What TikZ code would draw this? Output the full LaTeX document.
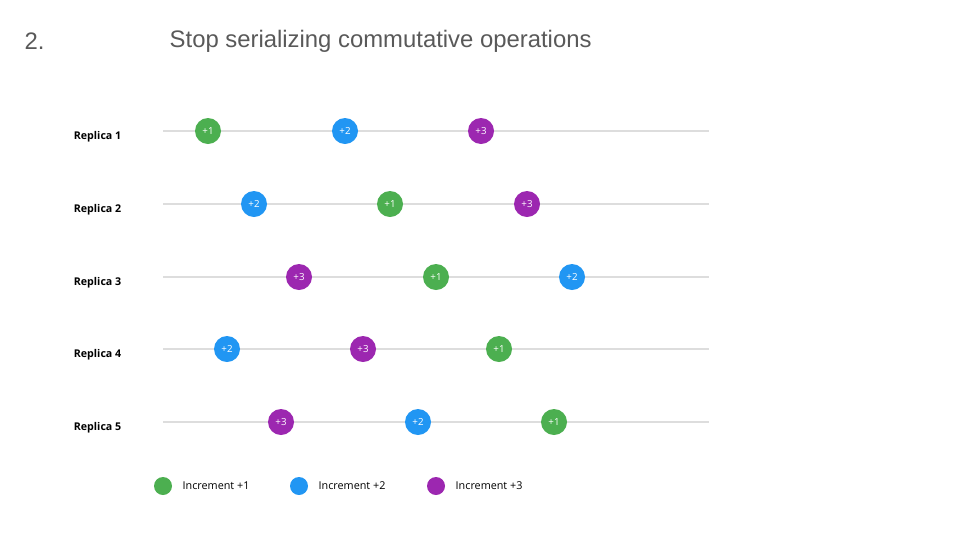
\documentclass[tikz,border=0pt]{standalone}
\usepackage{fontspec}
\setmainfont{Open Sans}
\newfontfamily\titlefont{Liberation Sans}
\definecolor{incone}{HTML}{4CAF50}
\definecolor{inctwo}{HTML}{2196F3}
\definecolor{incthree}{HTML}{9C27B0}
\definecolor{rail}{HTML}{DDDDDD}
\definecolor{titlegray}{HTML}{595959}
\tikzset{
  op/.style={circle, minimum size=19.5pt, inner sep=0pt, text=white, font=\fontsize{7.3}{8}\selectfont},
  opone/.style={op, fill=incone},
  optwo/.style={op, fill=inctwo},
  opthree/.style={op, fill=incthree},
  key/.style={circle, minimum size=13.5pt, inner sep=0pt},
  replica/.style={anchor=east, font=\fontsize{8}{10}\selectfont\bfseries},
  keytext/.style={anchor=west, font=\fontsize{8.1}{10}\selectfont},
  heading/.style={anchor=west, text=titlegray, font=\titlefont\fontsize{17.9}{21}\selectfont},
}
\begin{document}
\begin{tikzpicture}[x=0.75pt, y=-0.75pt]
\useasboundingbox (0, 0) rectangle (960, 540);
% titolo
\node[heading] (num) at (20, 41) {2.};
\node[heading] (title) at (165, 41) {Stop serializing commutative operations};
% binari
\foreach \r/\y in {1/131, 2/204, 3/277, 4/349, 5/422} {
  \coordinate (s\r) at (163, \y);
  \coordinate (e\r) at (709, \y);
  \draw[rail, line width=1pt] (s\r) -- (e\r);
  \node[replica] (rep\r) at (126, \y+6) {Replica \r};
}
% replica 1
\node[opone] (a1) at (208, 131) {+1};
\node[optwo] (a2) at (345, 131) {+2};
\node[opthree] (a3) at (481, 131) {+3};
% replica 2
\node[optwo] (b2) at (254, 204) {+2};
\node[opone] (b1) at (390, 204) {+1};
\node[opthree] (b3) at (527, 204) {+3};
% replica 3
\node[opthree] (c3) at (299, 277) {+3};
\node[opone] (c1) at (436, 277) {+1};
\node[optwo] (c2) at (572, 277) {+2};
% replica 4
\node[optwo] (d2) at (227, 349) {+2};
\node[opthree] (d3) at (363, 349) {+3};
\node[opone] (d1) at (499, 349) {+1};
% replica 5
\node[opthree] (f3) at (281, 422) {+3};
\node[optwo] (f2) at (418, 422) {+2};
\node[opone] (f1) at (554, 422) {+1};
% legenda
\node[key, fill=incone] (k1) at (163, 486) {};
\node[keytext] (t1) at (178, 486) {Increment +1};
\node[key, fill=inctwo] (k2) at (299, 486) {};
\node[keytext] (t2) at (314, 486) {Increment +2};
\node[key, fill=incthree] (k3) at (436, 486) {};
\node[keytext] (t3) at (451, 486) {Increment +3};
\end{tikzpicture}
\end{document}
